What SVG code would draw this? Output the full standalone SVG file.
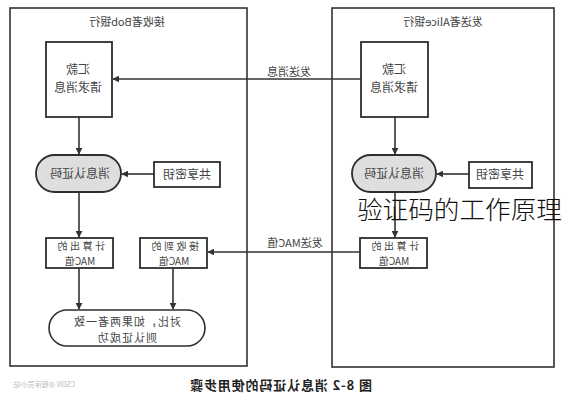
<svg xmlns="http://www.w3.org/2000/svg" width="564" height="400" viewBox="0 0 564 400">
<style>
text{font-family:"Noto Sans CJK SC","Liberation Sans",sans-serif;fill:#444;font-size:12px}
.frame{fill:none;stroke:#333;stroke-width:1.6}
.box{fill:#fff;stroke:#2e2e2e;stroke-width:1.8}
.pill{fill:#dedede;stroke:#2e2e2e;stroke-width:1.8}
.pillw{fill:#fff;stroke:#2e2e2e;stroke-width:1.6}
.c{text-anchor:middle}
.t{font-size:11px}
.s{font-size:11px}
.m{font-size:10px}
.ln{stroke:#333;stroke-width:1.6;fill:none}
</style>
<defs>
<marker id="ah" viewBox="0 0 10 10" refX="9" refY="5" markerWidth="7" markerHeight="7" orient="auto" markerUnits="userSpaceOnUse">
<path d="M0,0 L10,5 L0,10 z" fill="#333"/>
</marker>
</defs>
<rect width="564" height="400" fill="#fff"/>

<g id="frame-bob">
<rect class="frame" x="10" y="8" width="237" height="358"/>
<text class="c t" transform="translate(127,26) scale(-1,1)">接收者Bob银行</text>
</g>
<g id="frame-alice">
<rect class="frame" x="332" y="8" width="222" height="359"/>
<text class="c t" transform="translate(443,26) scale(-1,1)">发送者Alice银行</text>
</g>

<g id="connectors">
<line class="ln" x1="361" y1="79" x2="113" y2="79" marker-end="url(#ah)"/>
<line class="ln" x1="79" y1="117" x2="79" y2="154" marker-end="url(#ah)"/>
<line class="ln" x1="154" y1="174" x2="122" y2="174" marker-end="url(#ah)"/>
<line class="ln" x1="395" y1="117" x2="395" y2="154" marker-end="url(#ah)"/>
<line class="ln" x1="469" y1="174" x2="437" y2="174" marker-end="url(#ah)"/>
<line class="ln" x1="79" y1="192" x2="79" y2="237" marker-end="url(#ah)" stroke="#777"/>
<line class="ln" x1="395" y1="192" x2="395" y2="237" marker-end="url(#ah)"/>
<line class="ln" x1="360" y1="252" x2="208" y2="252" marker-end="url(#ah)"/>
<line class="ln" x1="79" y1="268" x2="79" y2="309" marker-end="url(#ah)"/>
<line class="ln" x1="173" y1="268" x2="173" y2="309" marker-end="url(#ah)"/>
<text class="c t" transform="translate(289,76) scale(-1,1)">发送消息</text>
<text class="c t" transform="translate(295,247) scale(-1,1)">发送MAC值</text>
</g>

<g id="bob-msg">
<rect class="box" x="46" y="42" width="66" height="75"/>
<text class="c" transform="translate(78,74) scale(-1,1)"><tspan x="0" y="0">汇款</tspan><tspan x="0" y="18">请求消息</tspan></text>
</g>
<g id="alice-msg">
<rect class="box" x="361" y="42" width="67" height="75"/>
<text class="c" transform="translate(394,74) scale(-1,1)"><tspan x="0" y="0">汇款</tspan><tspan x="0" y="18">请求消息</tspan></text>
</g>

<g id="bob-mac-fn">
<rect class="pill" x="36" y="155" width="85" height="37" rx="18.5"/>
<text class="c" transform="translate(80,178) scale(-1,1)">消息认证码</text>
</g>
<g id="bob-key">
<rect class="box" x="154" y="162" width="66" height="25"/>
<text class="c" transform="translate(187,179) scale(-1,1)">共享密钥</text>
</g>
<g id="alice-mac-fn">
<rect class="pill" x="352" y="155" width="84" height="37" rx="18.5"/>
<text class="c" transform="translate(394,178) scale(-1,1)">消息认证码</text>
</g>
<g id="alice-key">
<rect class="box" x="469" y="162" width="63" height="26"/>
<text class="c" transform="translate(500,179) scale(-1,1)">共享密钥</text>
</g>

<g id="bob-calc-mac">
<rect class="box" x="46" y="238" width="67" height="30"/>
<text class="c m" transform="translate(80,250) scale(-1,1)"><tspan x="0" y="0" letter-spacing="2.5">计算出的</tspan><tspan x="0" y="15">MAC值</tspan></text>
</g>
<g id="bob-recv-mac">
<rect class="box" x="140" y="238" width="67" height="30"/>
<text class="c m" transform="translate(174,250) scale(-1,1)"><tspan x="0" y="0" letter-spacing="2.5">接收到的</tspan><tspan x="0" y="15">MAC值</tspan></text>
</g>
<g id="alice-calc-mac">
<rect class="box" x="360" y="238" width="67" height="30"/>
<text class="c m" transform="translate(394,250) scale(-1,1)"><tspan x="0" y="0" letter-spacing="2.5">计算出的</tspan><tspan x="0" y="15">MAC值</tspan></text>
</g>

<g id="compare">
<rect class="pillw" x="49" y="310" width="156" height="36" rx="18"/>
<text class="c s" transform="translate(127,326) scale(-1,1)" letter-spacing="1"><tspan x="0" y="0">对比，如果两者一致</tspan><tspan x="0" y="16">则认证成功</tspan></text>
</g>

<text transform="translate(372,390) scale(-1,1)" textLength="182" lengthAdjust="spacing" style="fill:#222;font-size:13px;font-weight:bold">图 8-2 消息认证码的使用步骤</text>
<text transform="translate(75,387) scale(-1,1)" style="font-size:7px;fill:#bbb">CSDN @程序员小站</text>

<text x="357" y="219" style="font-size:25px;fill:#111;font-weight:300" textLength="205" lengthAdjust="spacingAndGlyphs">验证码的工作原理</text>
</svg>
